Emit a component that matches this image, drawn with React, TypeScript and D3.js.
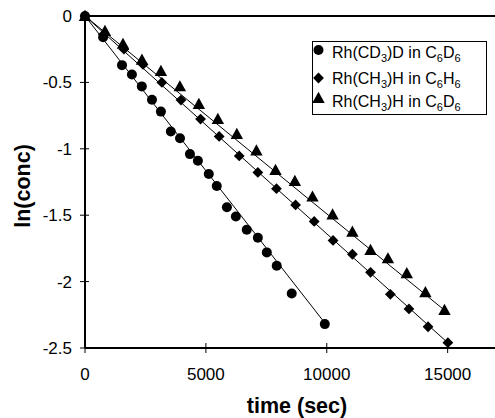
import React from "react";
import * as d3 from "d3";

// Rh(CD3)D in C6D6
const circleTime = [0, 750, 1530, 1940, 2350, 2770, 3140, 3550, 3930, 4340, 4670, 5120, 5450, 5870, 6240, 6690, 7150, 7520, 7930, 8550, 9920];
const circleVal = [0, -0.16, -0.37, -0.44, -0.53, -0.63, -0.72, -0.87, -0.92, -1.04, -1.09, -1.19, -1.28, -1.44, -1.51, -1.61, -1.67, -1.78, -1.88, -2.09, -2.32];

// Rh(CH3)H in C6H6
const diamondTime = [0, 760, 1610, 2400, 3180, 3970, 4780, 5550, 6380, 7150, 7920, 8710, 9480, 10260, 11060, 11810, 12630, 13400, 14190, 15010];
const diamondVal = [0, -0.14, -0.25, -0.365, -0.5, -0.633, -0.776, -0.907, -1.054, -1.178, -1.3, -1.423, -1.547, -1.69, -1.794, -1.93, -2.096, -2.206, -2.34, -2.46];

// Rh(CH3)H in C6D6
const triangleTime = [0, 826, 1570, 2355, 3140, 3925, 4710, 5495, 6280, 7090, 7880, 8680, 9410, 10240, 11060, 11810, 12530, 13310, 14080, 14870];
const triangleVal = [0, -0.113, -0.21, -0.33, -0.414, -0.53, -0.663, -0.776, -0.889, -1.013, -1.16, -1.242, -1.36, -1.495, -1.624, -1.762, -1.825, -1.937, -2.08, -2.214];

// fitted first-order lines (slope per sec)
const fitSlopes = [-2.33e-4, -1.64e-4, -1.49e-4];
const fitEnds = [9950, 15050, 15000];

const xTicks = [0, 5000, 10000, 15000];
const yTicks = [0, -0.5, -1, -1.5, -2, -2.5];

// legend labels: [text, isSubscript]
const legendLabels: [string, boolean][][] = [
  [["Rh(CD", false], ["3", true], [")D in C", false], ["6", true], ["D", false], ["6", true]],
  [["Rh(CH", false], ["3", true], [")H in C", false], ["6", true], ["H", false], ["6", true]],
  [["Rh(CH", false], ["3", true], [")H in C", false], ["6", true], ["D", false], ["6", true]],
];
const legendKinds = ["circle", "diamond", "triangle"];

const font = "'Liberation Sans', Arial, Helvetica, sans-serif";

const Marker = ({ kind, x, y }: { kind: string; x: number; y: number }) => {
  if (kind === "circle") return <circle cx={x} cy={y} r={5} fill="#000" />;
  if (kind === "diamond") {
    const s = 5.4;
    return <path d={`M${x},${y - s}L${x + s},${y}L${x},${y + s}L${x - s},${y}Z`} fill="#000" />;
  }
  const s = 6.2;
  return <path d={`M${x},${y - s}L${x + s},${y + s * 0.8}L${x - s},${y + s * 0.8}Z`} fill="#000" />;
};

const App = () => {
  const width = 495;
  const height = 418;
  const margin = { top: 16, right: 0, bottom: 70, left: 85 };

  const x = d3.scaleLinear().domain([0, 17000]).range([margin.left, margin.left + 411]);
  const y = d3.scaleLinear().domain([-2.5, 0]).range([height - margin.bottom, margin.top]);

  const series = [
    { kind: "circle", t: circleTime, v: circleVal },
    { kind: "diamond", t: diamondTime, v: diamondVal },
    { kind: "triangle", t: triangleTime, v: triangleVal },
  ];

  const line = d3
    .line<[number, number]>()
    .x((d) => x(d[0]))
    .y((d) => y(d[1]));

  const x0 = x(0);
  const y0 = y(0);
  const yb = y(-2.5);

  const markerY = [50, 78, 98];
  const textY = [52, 78.5, 101];

  return (
    <svg
      width={width}
      height={height}
      style={{ position: "absolute", left: 0, top: 0, background: "#fff" }}
      fontFamily={font}
    >
      {/* fit lines */}
      {fitSlopes.map((s, i) => (
        <path
          key={i}
          d={line([
            [0, 0],
            [fitEnds[i], s * fitEnds[i]],
          ]) || ""}
          stroke="#000"
          strokeWidth={1}
          fill="none"
        />
      ))}

      {/* axes frame */}
      <line x1={x0} x2={width} y1={y0} y2={y0} stroke="#000" strokeWidth={2} />
      <line x1={x0} x2={width} y1={yb} y2={yb} stroke="#000" strokeWidth={2} />
      <line x1={x0} x2={x0} y1={y0} y2={yb} stroke="#000" strokeWidth={2} />

      {yTicks.map((t) => (
        <g key={t}>
          <line x1={x0 - 5} x2={x0 + 4} y1={y(t)} y2={y(t)} stroke="#000" strokeWidth={1} />
          <text x={x0 - 13} y={y(t)} dy="0.35em" textAnchor="end" fontSize={17}>
            {t}
          </text>
        </g>
      ))}
      {xTicks.map((t) => (
        <g key={t}>
          <line x1={x(t)} x2={x(t)} y1={yb - 5} y2={yb + 5} stroke="#000" strokeWidth={1} />
          <text x={x(t)} y={yb + 32} textAnchor="middle" fontSize={17}>
            {t}
          </text>
        </g>
      ))}

      {/* markers */}
      {series.map((s) =>
        s.t.map((t, i) => <Marker key={s.kind + i} kind={s.kind} x={x(t)} y={y(s.v[i])} />)
      )}

      {/* axis titles */}
      <text x={297} y={413} textAnchor="middle" fontSize={21.5} fontWeight="bold">
        time (sec)
      </text>
      <text
        transform={`translate(30,186) rotate(-90)`}
        textAnchor="middle"
        fontSize={21.5}
        fontWeight="bold"
      >
        ln(conc)
      </text>

      {/* legend */}
      <rect x={312.5} y={41.5} width={174} height={73} fill="#fff" stroke="#000" strokeWidth={1} />
      {legendLabels.map((parts, r) => (
        <g key={r}>
          <Marker kind={legendKinds[r]} x={318.5} y={markerY[r]} />
          <text x={332} y={textY[r] + 5.6} fontSize={16}>
            {parts.map(([txt, sub], j) => {
              const prevSub = j > 0 && parts[j - 1][1];
              const dy = sub ? 4 : prevSub ? -4 : 0;
              return (
                <tspan key={j} dy={dy} fontSize={sub ? 11 : 16}>
                  {txt}
                </tspan>
              );
            })}
          </text>
        </g>
      ))}
    </svg>
  );
};

export default App;
